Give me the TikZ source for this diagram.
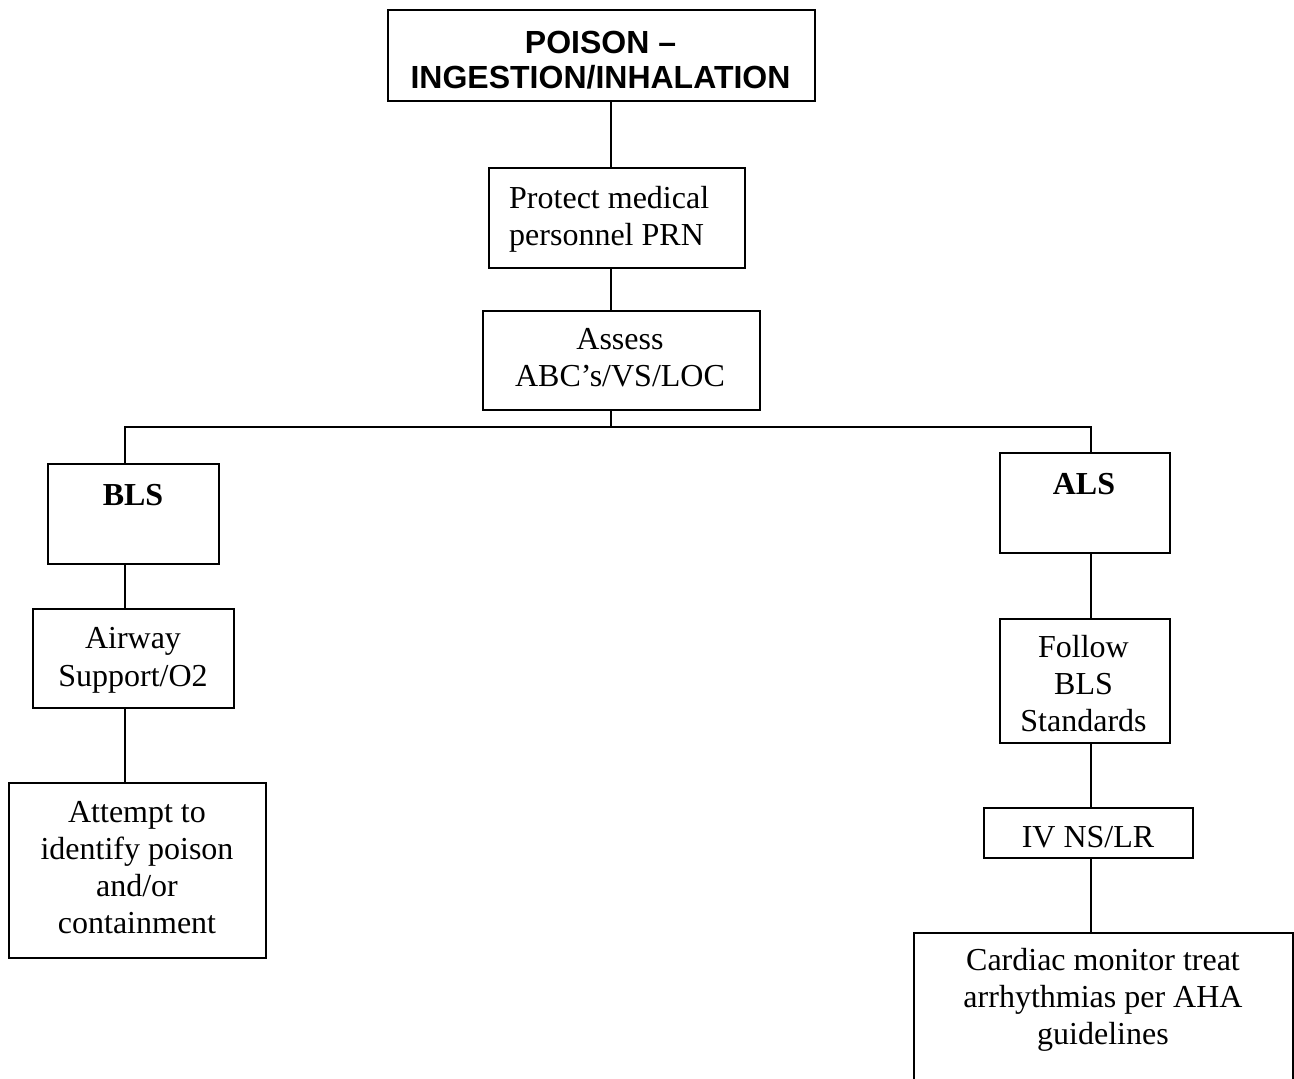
\documentclass[tikz,border=0pt]{standalone}
\usepackage{fontspec}
\setmainfont{Liberation Serif}
\newfontfamily\arialfont{Liberation Sans}
\begin{document}
\begin{tikzpicture}[x=1pt,y=-1pt,
  flowbox/.style={draw,line width=1.8pt,inner sep=0pt,anchor=north west},
  link/.style={line width=1.5pt},
  txt/.style={inner sep=0pt,anchor=base,font=\fontsize{32}{37}\selectfont},
  ttl/.style={inner sep=0pt,anchor=base,font=\arialfont\bfseries\fontsize{32}{35}\selectfont}]
\clip (0,0) rectangle (1294,1079);
% boxes
\node[flowbox,minimum width=427pt,minimum height=91pt] (title) at (387,9) {};
\node[flowbox,minimum width=256pt,minimum height=100pt] (protect) at (488,167) {};
\node[flowbox,minimum width=277pt,minimum height=99pt] (assess) at (482,310) {};
\node[flowbox,minimum width=171pt,minimum height=100pt] (bls) at (47,463) {};
\node[flowbox,minimum width=201pt,minimum height=99pt] (airway) at (32,608) {};
\node[flowbox,minimum width=257pt,minimum height=175pt] (attempt) at (8,782) {};
\node[flowbox,minimum width=170pt,minimum height=100pt] (als) at (999,452) {};
\node[flowbox,minimum width=170pt,minimum height=124pt] (follow) at (999,618) {};
\node[flowbox,minimum width=209pt,minimum height=50pt] (iv) at (983,807) {};
\node[flowbox,minimum width=379pt,minimum height=170pt] (cardiac) at (913,932) {};
% texts
\node[ttl] (titletext) at (600.5,53) {\begin{tabular}[t]{@{}c@{}}POISON –\\INGESTION/INHALATION\end{tabular}};
\node[txt,anchor=base west] (protecttext) at (509,208) {\begin{tabular}[t]{@{}l@{}}Protect medical\\personnel PRN\end{tabular}};
\node[txt] (assesstext) at (620,349) {\begin{tabular}[t]{@{}c@{}}Assess\\ABC’s/VS/LOC\end{tabular}};
\node[txt,font=\bfseries\fontsize{32}{37}\selectfont] (blstext) at (133,505) {BLS};
\node[txt,font=\fontsize{32}{38}\selectfont] (airwaytext) at (133,648) {\begin{tabular}[t]{@{}c@{}}Airway\\Support/O2\end{tabular}};
\node[txt] (attempttext) at (137,822) {\begin{tabular}[t]{@{}c@{}}Attempt to\\identify poison\\and/or\\containment\end{tabular}};
\node[txt,font=\bfseries\fontsize{32}{37}\selectfont] (alstext) at (1084,494) {ALS};
\node[txt] (followtext) at (1083.5,657) {\begin{tabular}[t]{@{}c@{}}Follow\\BLS\\Standards\end{tabular}};
\node[txt] (ivtext) at (1088,847) {IV NS/LR};
\node[txt] (cardiactext) at (1103,970) {\begin{tabular}[t]{@{}c@{}}Cardiac monitor treat\\arrhythmias per AHA\\guidelines\end{tabular}};
% connector columns
\coordinate (colM) at (611,0);
\coordinate (colL) at (125,0);
\coordinate (colR) at (1091,0);
\coordinate (junction) at (611,427);
\draw[link] (title.south -| colM) -- (protect.north -| colM);
\draw[link] (protect.south -| colM) -- (assess.north -| colM);
\draw[link] (assess.south -| colM) -- (junction);
\draw[link] (bls.north -| colL) -- (colL |- junction) -- (colR |- junction) -- (als.north -| colR);
\draw[link] (bls.south -| colL) -- (airway.north -| colL);
\draw[link] (airway.south -| colL) -- (attempt.north -| colL);
\draw[link] (als.south -| colR) -- (follow.north -| colR);
\draw[link] (follow.south -| colR) -- (iv.north -| colR);
\draw[link] (iv.south -| colR) -- (cardiac.north -| colR);
\end{tikzpicture}
\end{document}
